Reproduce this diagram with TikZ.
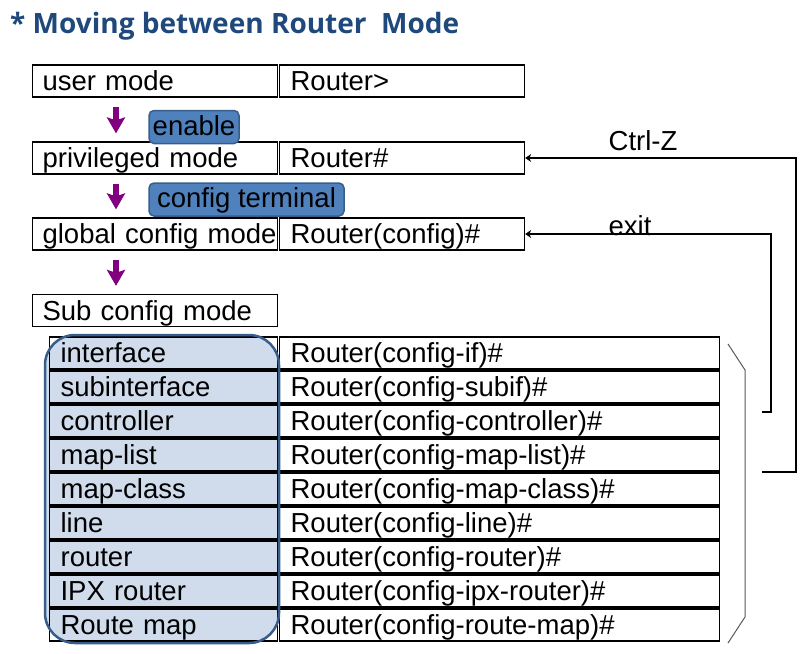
\documentclass[tikz,border=0pt]{standalone}
\usepackage{fontspec}
\setmainfont{Liberation Sans}
\newfontfamily\titlefont{Open Sans}[BoldFont={* Bold}]
\usetikzlibrary{arrows.meta,positioning}

\newcommand\cellfont{\fontsize{27.5}{32}\selectfont}

\begin{document}
\begin{tikzpicture}[x=1pt,y=-1pt,
    modebox/.style={draw, line width=1.2pt, anchor=west, align=left, inner xsep=10pt, inner ysep=0pt,
        minimum height=32pt, text width=225pt, text height=22pt, text depth=3pt, font=\cellfont},
    promptbox/.style={modebox, inner xsep=11pt, text width=223pt},
    subbox/.style={modebox, inner xsep=11pt, text width=206pt},
    subpromptbox/.style={modebox, inner xsep=11pt, text width=418pt},
    cmdbox/.style={draw=cmdline, fill=cmdfill, line width=1.5pt, rounded corners=5pt,
        inner sep=0pt, minimum height=33pt, text height=21pt, text depth=5pt, font=\cellfont},
    modearrow/.style={draw=modepurple, line width=6pt, -{Stealth[width=18pt,length=16pt,inset=3pt]},
        shorten <=9pt, shorten >=8pt},
    backarrow/.style={draw, line width=1.2pt, -{Stealth[length=6pt,width=8pt]}}]

    % Colors
    \definecolor{titleblue}{RGB}{31,73,125}
    \definecolor{cmdfill}{RGB}{79,129,189}
    \definecolor{cmdline}{RGB}{56,93,138}
    \definecolor{subfill}{RGB}{208,220,236}
    \definecolor{modepurple}{RGB}{128,0,128}

    \useasboundingbox (0,0) rectangle (810,653);

    % Title
    \node[anchor=base west, inner sep=0pt, text=titleblue, font=\titlefont\bfseries\fontsize{28}{32}\selectfont]
        (title) at (10,33) {*\ Moving between\ Router\ \ Mode};

    % Mode boxes
    \node[modebox] (user) at (32,81) {user mode};
    \node[promptbox] (userp) at (279,81) {Router>};
    \node[modebox] (priv) at (32,158) {privileged mode};
    \node[promptbox] (privp) at (279,158) {Router\#};
    \node[modebox] (global) at (32,234) {\mbox{global config mode}};
    \node[promptbox] (globalp) at (279,234) {Router(config)\#};
    \node[modebox] (sub) at (32,310.5) {Sub config mode};

    % Commands between the modes
    \coordinate (ax) at (116,0);
    \draw[modearrow] (user.south -| ax) -- (priv.north -| ax);
    \draw[modearrow] (priv.south -| ax) -- (global.north -| ax);
    \draw[modearrow] (global.south -| ax) -- (sub.north -| ax);
    \node[cmdbox, minimum width=90pt] (enable) at (194,127) {enable};
    \node[cmdbox, minimum width=195pt] (conft) at (246.5,199.5) {config terminal};

    % Sub config modes
    \fill[subfill] [rounded corners=30pt] (45,335) rectangle (279,643);
    \node[subbox] (s1) at (49,353) {interface};
    \node[subpromptbox] (p1) at (279,353) {Router(config-if)\#};
    \node[subbox] (s2) at (49,387) {subinterface};
    \node[subpromptbox] (p2) at (279,387) {Router(config-subif)\#};
    \node[subbox] (s3) at (49,421) {controller};
    \node[subpromptbox] (p3) at (279,421) {Router(config-controller)\#};
    \node[subbox] (s4) at (49,455) {map-list};
    \node[subpromptbox] (p4) at (279,455) {Router(config-map-list)\#};
    \node[subbox] (s5) at (49,489) {map-class};
    \node[subpromptbox] (p5) at (279,489) {Router(config-map-class)\#};
    \node[subbox] (s6) at (49,523) {line};
    \node[subpromptbox] (p6) at (279,523) {Router(config-line)\#};
    \node[subbox] (s7) at (49,557) {router};
    \node[subpromptbox] (p7) at (279,557) {Router(config-router)\#};
    \node[subbox] (s8) at (49,591) {IPX router};
    \node[subpromptbox] (p8) at (279,591) {Router(config-ipx-router)\#};
    \node[subbox] (s9) at (49,625) {Route map};
    \node[subpromptbox] (p9) at (279,625) {Router(config-route-map)\#};
    \draw[cmdline, line width=2.5pt] [rounded corners=30pt] (45,335) rectangle (279,643);

    % Bracket
    \draw[gray!70!black, line width=1pt] (728,344) -- (745,370) -- (745,617) -- (728,643);

    % Going back
    \coordinate (exitfrom) at (762,412);
    \coordinate (ctrlzfrom) at (762,472);
    \draw[backarrow] (exitfrom) -- ++(9,0) |- (globalp.east);
    \draw[backarrow] (ctrlzfrom) -- ++(34,0) |- (privp.east);
    \node[font=\cellfont, inner sep=0pt] (exit) at (630,226) {exit};
    \node[font=\cellfont, inner sep=0pt] (ctrlz) at (643,141) {Ctrl-Z};

\end{tikzpicture}
\end{document}
